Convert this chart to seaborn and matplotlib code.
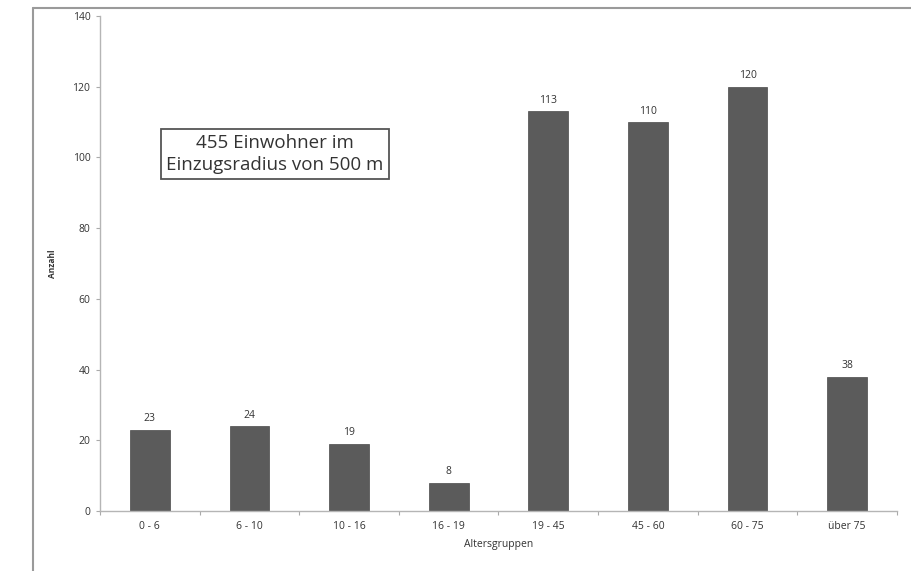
import matplotlib
matplotlib.use("Agg")
import matplotlib.pyplot as plt
import seaborn as sns
import pandas as pd
import numpy as np
from matplotlib.lines import Line2D
from matplotlib.ticker import FixedLocator

categories = ["0 - 6", "6 - 10", "10 - 16", "16 - 19", "19 - 45", "45 - 60", "60 - 75", "über 75"]
values = [23, 24, 19, 8, 113, 110, 120, 38]
yticks = [0, 20, 40, 60, 80, 100, 120, 140]

sns.set_theme(style="white")
plt.rcParams['font.family'] = ['Open Sans', 'DejaVu Sans']

df = pd.DataFrame({"Altersgruppen": categories, "Anzahl": values})

fig = plt.figure(figsize=(9.12, 5.71), dpi=100)
ax = fig.add_axes([100/912, 1-511/571, 797/912, 495/571])
sns.barplot(data=df, x="Altersgruppen", y="Anzahl", color="#5b5b5b", width=0.4,
            saturation=1, ax=ax, edgecolor="#4a4a4a", linewidth=0.5)

ax.set_ylim(0, 140)
ax.set_xlim(-0.5, len(categories) - 0.5)
ax.set_yticks(yticks)
ax.tick_params(axis='y', labelsize=7.5, labelcolor='#333333', length=3, width=0.8,
               direction='out', left=True, color='#aaaaaa', pad=4)
ax.tick_params(axis='x', which='major', length=0, labelsize=7.5, labelcolor='#333333', pad=7)
ax.xaxis.set_minor_locator(FixedLocator(np.arange(-0.5, len(categories), 1.0)))
ax.tick_params(axis='x', which='minor', length=3, width=0.8, color='#aaaaaa', bottom=True, direction='out')

for s in ['top', 'right']:
    ax.spines[s].set_visible(False)
for s in ['left', 'bottom']:
    ax.spines[s].set_color('#b5b5b5')
    ax.spines[s].set_linewidth(1.0)

ax.set_xlabel("Altersgruppen", fontsize=7.5, color='#333333', labelpad=5)
ax.set_ylabel("Anzahl", fontsize=6, fontweight='bold', color='#333333')
ax.yaxis.set_label_coords((57-100)/797, 0.5)

for i, v in enumerate(values):
    ax.annotate(str(v), xy=(i, v), xytext=(0, 4), textcoords='offset points',
                ha='center', va='bottom', fontsize=7.5, color='#333333')

ax.text(275/912, 1-154/571, "455 Einwohner im\nEinzugsradius von 500 m", transform=fig.transFigure,
        ha='center', va='center', fontsize=13.5, color='#333333', linespacing=1.25,
        bbox=dict(boxstyle='square,pad=0.3', facecolor='white', edgecolor='#555555', linewidth=1.3))

fig.add_artist(Line2D([33/912, 33/912], [0, 1-8/571], transform=fig.transFigure, color='#9a9a9a', linewidth=1.5))
fig.add_artist(Line2D([33/912, 1], [1-8/571, 1-8/571], transform=fig.transFigure, color='#9a9a9a', linewidth=1.5))

fig.savefig("out.png", dpi=100)
